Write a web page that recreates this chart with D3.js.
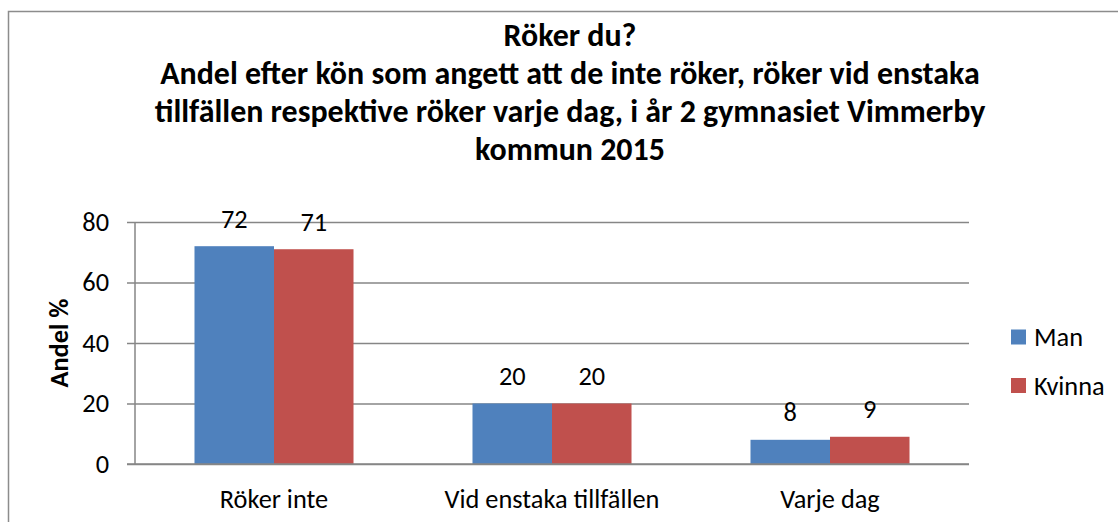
<!DOCTYPE html>
<html><head><meta charset="utf-8">
<script src="https://cdn.jsdelivr.net/npm/d3@7"></script>
<style>html,body{margin:0;padding:0;background:#fff;overflow:hidden}</style>
</head><body>
<svg id="c" width="1118" height="522"></svg>
<script>
const titleLines = [
  "Röker du?",
  "Andel efter kön som angett att de inte röker, röker vid enstaka",
  "tillfällen respektive röker varje dag, i år 2 gymnasiet Vimmerby",
  "kommun 2015"
];
const categories = ["Röker inte", "Vid enstaka tillfällen", "Varje dag"];
const seriesNames = ["Man", "Kvinna"];
const manValues = [72, 20, 8];
const kvinnaValues = [71, 20, 9];
const yTicks = [0, 20, 40, 60, 80];
const yLabel = "Andel %";
const seriesColors = ["#4F81BD", "#C0504D"];

const FONT = "Carlito, Lato, 'Open Sans', sans-serif";
const svg = d3.select("#c");

// helper to find font size matching a target width
function fitSize(text, weight, base, target) {
  const t = svg.append("text").attr("font-family", FONT).attr("font-weight", weight)
    .attr("font-size", base).text(text);
  const w = t.node().getComputedTextLength();
  t.remove();
  return base * target / w;
}
const titleSize = fitSize(titleLines[1], "bold", 31, 820);
const axisSize = fitSize(categories[1], "normal", 25, 215);
const labelSize = fitSize(yLabel, "bold", 25, 89);

// chart border
svg.append("rect").attr("x", 8.5).attr("y", 11.5).attr("width", 1200).attr("height", 600)
  .attr("fill", "#fff").attr("stroke", "#8c8c8c").attr("stroke-width", 1.5);

// title
const titleBaselines = [46, 84, 122, 160];
svg.append("g").selectAll("text").data(titleLines).join("text")
  .attr("x", 570).attr("y", (d, i) => titleBaselines[i])
  .attr("text-anchor", "middle").attr("font-family", FONT).attr("font-weight", "bold")
  .attr("font-size", titleSize).attr("fill", "#000").text(d => d);

const plot = { left: 135, right: 969, top: 222, bottom: 464 };
const x0 = d3.scaleBand().domain(categories).range([plot.left, plot.right])
  .paddingInner(0.428).paddingOuter(0.214);
const x1 = d3.scaleBand().domain(seriesNames).range([0, x0.bandwidth()]).padding(0);
const y = d3.scaleLinear().domain([0, 80]).range([plot.bottom, plot.top]);

// y axis with gridlines
const yAxis = d3.axisLeft(y).tickValues(yTicks).tickSize(8).tickPadding(18);
const gy = svg.append("g").attr("transform", `translate(${plot.left},0)`).call(yAxis);
gy.select(".domain").remove();
gy.selectAll(".tick line").attr("x1", plot.right - plot.left).attr("stroke", "#868686").attr("stroke-width", 1.5);
gy.selectAll(".tick text").attr("font-family", FONT).attr("font-size", axisSize).attr("fill", "#000");

// bars
const rows = categories.map((c, i) => ({ cat: c, vals: [manValues[i], kvinnaValues[i]] }));
const groups = svg.append("g").selectAll("g").data(rows).join("g")
  .attr("transform", d => `translate(${x0(d.cat)},0)`);
groups.selectAll("rect").data(d => d.vals.map((v, j) => ({ s: seriesNames[j], v, j }))).join("rect")
  .attr("x", d => x1(d.s)).attr("width", x1.bandwidth())
  .attr("y", d => y(d.v)).attr("height", d => y(0) - y(d.v))
  .attr("fill", d => seriesColors[d.j]);
groups.selectAll("text").data(d => d.vals.map((v, j) => ({ s: seriesNames[j], v, j }))).join("text")
  .attr("x", d => x1(d.s) + x1.bandwidth() / 2).attr("y", d => y(d.v) - 18.5)
  .attr("text-anchor", "middle").attr("font-family", FONT).attr("font-size", axisSize)
  .attr("fill", "#000").text(d => d.v);

// axis lines
svg.append("line").attr("x1", plot.left).attr("x2", plot.left).attr("y1", plot.top).attr("y2", plot.bottom)
  .attr("stroke", "#868686").attr("stroke-width", 1.5);
svg.append("line").attr("x1", plot.left - 8).attr("x2", plot.right).attr("y1", y(0)).attr("y2", y(0))
  .attr("stroke", "#868686").attr("stroke-width", 1.5);

// category labels
const xAxis = d3.axisBottom(x0).tickSize(0).tickPadding(0);
const gx = svg.append("g").attr("transform", `translate(0,${plot.bottom})`).call(xAxis);
gx.select(".domain").remove();
gx.selectAll(".tick text").attr("y", 44).attr("dy", 0)
  .attr("font-family", FONT).attr("font-size", axisSize).attr("fill", "#000");

// y label
svg.append("text").attr("transform", `translate(${68},${(plot.top + plot.bottom) / 2}) rotate(-90)`)
  .attr("text-anchor", "middle").attr("font-family", FONT).attr("font-weight", "bold")
  .attr("font-size", labelSize).attr("fill", "#000").text(yLabel);

// legend
const legendRows = [337, 385.5];
const lg = svg.append("g").selectAll("g").data(seriesNames).join("g")
  .attr("transform", (d, i) => `translate(1011,${legendRows[i]})`);
lg.append("rect").attr("x", 0).attr("y", -7.5).attr("width", 15).attr("height", 15)
  .attr("fill", (d, i) => seriesColors[i]);
lg.append("text").attr("x", 23).attr("y", 0).attr("dy", "0.35em")
  .attr("font-family", FONT).attr("font-size", axisSize).attr("fill", "#000").text(d => d);
</script>
</body></html>
